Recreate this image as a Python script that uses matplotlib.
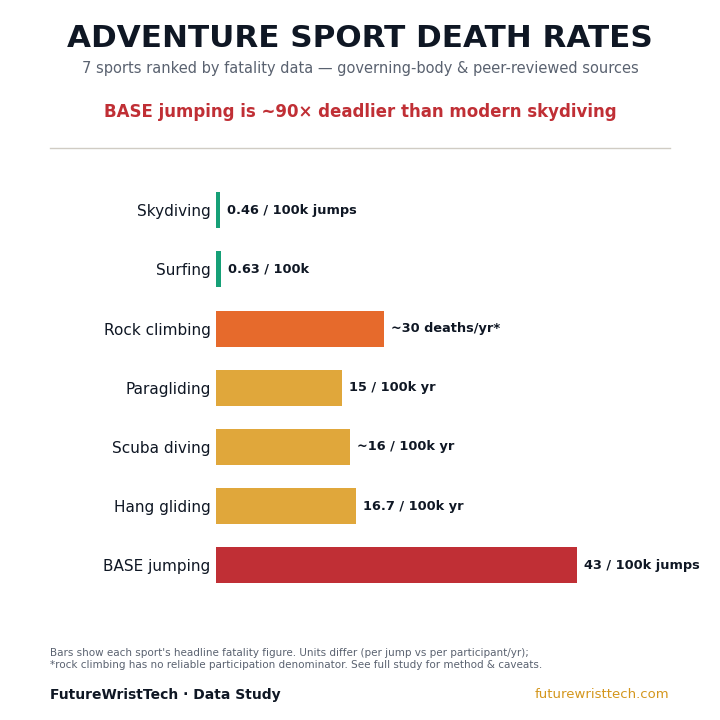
import matplotlib
matplotlib.use("Agg")
import matplotlib.pyplot as plt

sports = ["Skydiving", "Surfing", "Rock climbing", "Paragliding", "Scuba diving", "Hang gliding", "BASE jumping"]
values = [0.46, 0.63, 20, 15, 16, 16.7, 43]
labels = ["0.46 / 100k jumps", "0.63 / 100k", "~30 deaths/yr*", "15 / 100k yr", "~16 / 100k yr", "16.7 / 100k yr", "43 / 100k jumps"]
colors = ["#16a077", "#16a077", "#e66a2c", "#e0a73b", "#e0a73b", "#e0a73b", "#c02f35"]

fig = plt.figure(figsize=(7.2, 7.2), dpi=100)
fig.text(0.5, 0.946, "ADVENTURE SPORT DEATH RATES", ha="center", va="center", fontsize=22.3, fontweight="bold", color="#0f1724")
fig.text(0.5, 0.905, "7 sports ranked by fatality data — governing-body & peer-reviewed sources", ha="center", va="center", fontsize=10.5, color="#5a6270")
fig.text(0.5, 0.845, "BASE jumping is ~90× deadlier than modern skydiving", ha="center", va="center", fontsize=12, fontweight="bold", color="#c02f35")
fig.add_artist(plt.Line2D([0.07, 0.93], [0.795, 0.795], color="#d0ccc4", lw=1))

ax = fig.add_axes([0.3, 0.174, 0.583, 0.575])
y = list(range(len(sports)))
ax.barh(y, values, height=0.61, color=colors)
for yi, v, l in zip(y, values, labels):
    ax.text(v + 0.8, yi, l, va="center", ha="left", fontsize=9.3, fontweight="bold", color="#0f1724")
ax.set_yticks(y)
ax.set_yticklabels(sports, fontsize=11, color="#0f1724")
ax.set_ylim(6.5, -0.5)
ax.set_xlim(0, 50)
ax.set_xticks([])
ax.tick_params(axis="y", length=0, pad=4)
for s in ax.spines.values():
    s.set_visible(False)

fig.text(0.07, 0.085, "Bars show each sport's headline fatality figure. Units differ (per jump vs per participant/yr);\n*rock climbing has no reliable participation denominator. See full study for method & caveats.",
         ha="left", va="center", fontsize=7.5, color="#5a6270", linespacing=1.2)
fig.text(0.07, 0.035, "FutureWristTech · Data Study", ha="left", va="center", fontsize=10, fontweight="bold", color="#0f1724")
fig.text(0.93, 0.035, "futurewristtech.com", ha="right", va="center", fontsize=9.5, color="#d4961c")
fig.savefig("out.png", dpi=100)
